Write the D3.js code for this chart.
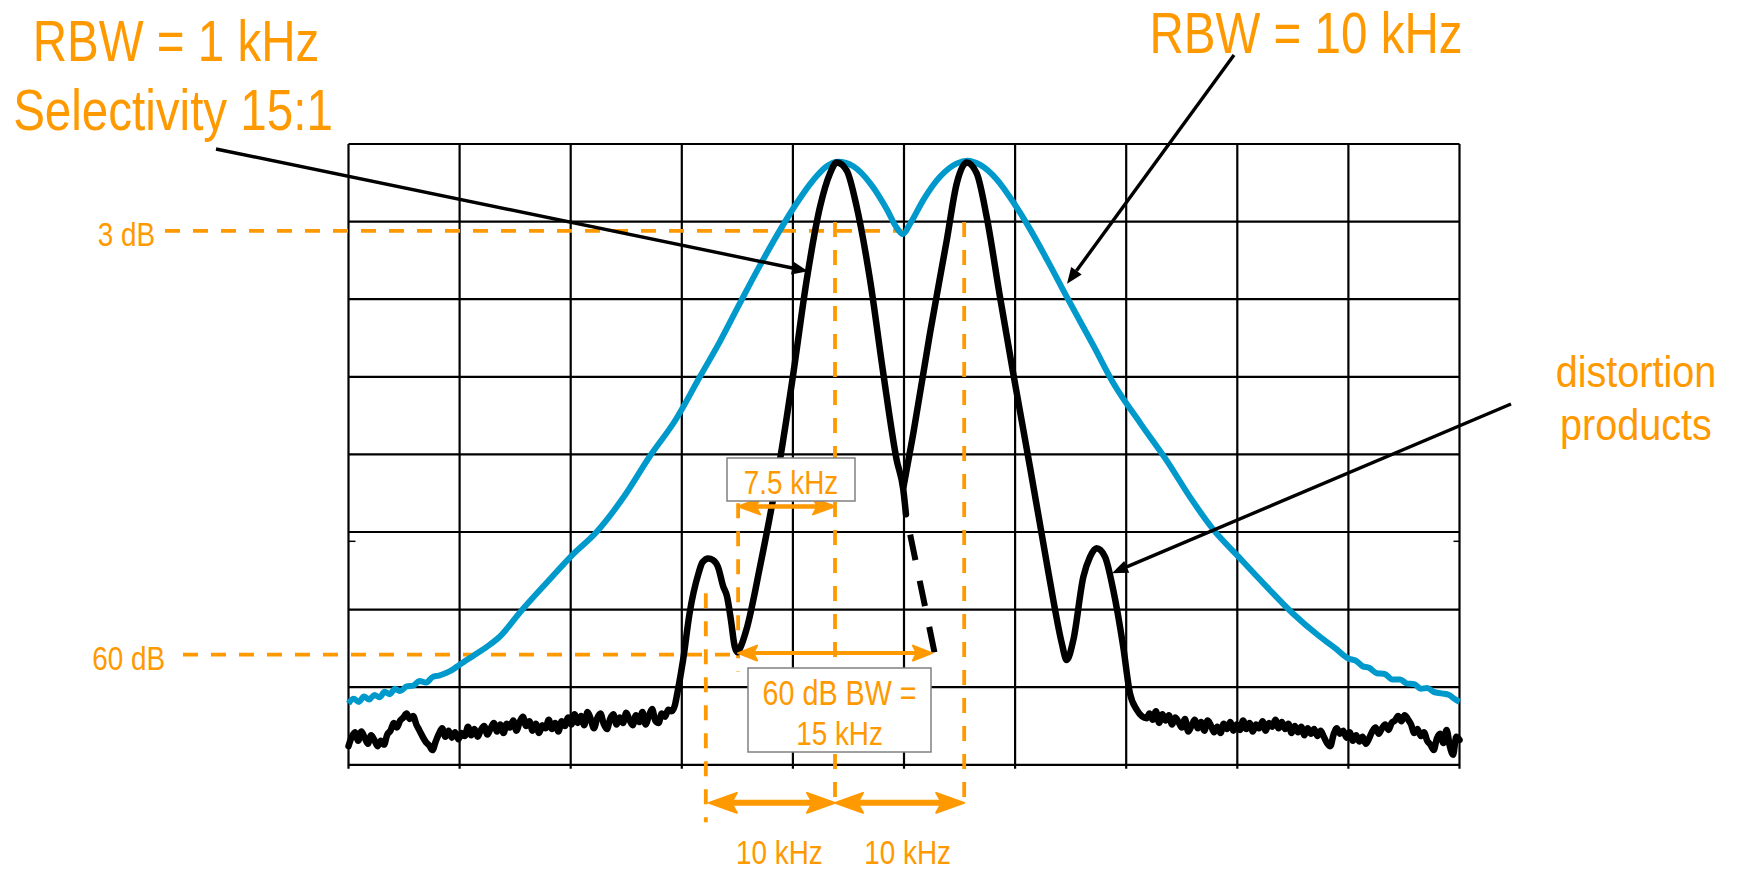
<!DOCTYPE html>
<html>
<head>
<meta charset="utf-8">
<script src="https://cdn.jsdelivr.net/npm/d3@7"></script>
<style>
html, body { margin: 0; padding: 0; background: #fff; overflow: hidden; }
svg { display: block; }
text { font-family: "Liberation Sans", Arial, sans-serif; fill: #ff9900; }
</style>
</head>
<body>
<script>
let WIDTH = 1739, HEIGHT = 872,
    PLOT = {left: 348.5, right: 1459.5, top: 144, bottom: 764.8},
    ORANGE = '#ff9900', BLUE = '#0099cc'

// x: frequency offset from centre (kHz), y: level (dB, 10 dB/div)
const spanKHz = [-43, 43]
const levelDb = [-80, 0]
const hDivs = 10, vDivs = 8

// RBW = 10 kHz trace (blue)
const rbw10Trace = [
  [-43.0,-72.1],[-42.6,-71.5],[-42.2,-71.9],[-41.8,-71.2],[-41.4,-71.6],[-41.0,-71.0],[-40.6,-71.3],
  [-40.2,-70.6],[-39.8,-70.9],[-39.4,-70.2],[-39.0,-70.5],[-38.5,-69.9],[-38.0,-69.8],[-37.5,-69.2],
  [-37.0,-69.4],[-36.5,-68.7],[-36.0,-68.5],[-35.5,-68.2],[-35.0,-67.8],[-34.4,-67.1],[-33.3,-65.9],
  [-32.3,-64.8],[-31.3,-63.5],[-29.7,-60.3],[-27.7,-56.6],[-25.7,-53.0],[-23.8,-50.0],[-21.7,-45.5],
  [-19.7,-40.3],[-17.7,-35.6],[-15.8,-30.0],[-14.2,-25.3],[-12.7,-20.5],[-11.2,-15.8],[-9.6,-11.1],
  [-8.3,-7.6],[-7.0,-4.6],[-6.0,-2.9],[-5.1,-2.3],[-3.9,-2.9],[-2.6,-5.1],[-1.3,-8.5],[-0.6,-10.7],
  [-0.1,-11.6],[0.5,-10.2],[1.5,-7.2],[2.8,-4.2],[4.1,-2.5],[4.9,-2.15],[5.9,-2.7],[7.2,-4.6],
  [8.5,-7.6],[9.8,-11.1],[11.1,-15.0],[12.6,-19.7],[14.7,-26.1],[16.2,-30.8],[18.3,-36.0],[20.3,-40.7],
  [22.3,-45.9],[23.9,-49.6],[25.9,-53.2],[28.1,-57.1],[30.1,-60.5],[32.2,-63.5],[33.4,-65.0],
  [34.4,-66.3],[35.0,-66.6],[35.5,-67.3],[36.0,-67.5],[36.6,-68.2],[37.2,-68.3],[37.8,-69.0],
  [38.4,-69.0],[38.9,-69.5],[39.5,-69.6],[40.0,-70.2],[40.5,-70.1],[41.0,-70.6],[41.6,-70.8],
  [42.2,-71.0],[42.6,-71.5],[43.0,-71.9]
]

// RBW = 1 kHz trace (black): noise floor left of the tones
const rbw1FloorLeft = [
  [-43.0,-77.6],[-42.75,-76.4],[-42.5,-75.8],[-42.25,-76.9],[-42.0,-75.7],[-41.75,-76.5],[-41.5,-77.3],
  [-41.25,-76.2],[-41.0,-76.8],[-40.75,-77.6],[-40.5,-76.9],[-40.25,-77.4],[-40.0,-76.1],[-39.75,-75.6],
  [-39.5,-74.6],[-39.25,-75.2],[-39.0,-74.3],[-38.75,-73.9],[-38.5,-73.4],[-38.25,-74.1],[-38.0,-73.7],
  [-37.75,-74.8],[-37.5,-75.6],[-37.25,-76.4],[-37.0,-77.1],[-36.75,-77.5],[-36.5,-78.1],[-36.25,-77.0],
  [-36.0,-76.0],[-35.75,-75.3],[-35.5,-76.4],[-35.25,-75.6],[-35.0,-76.5],[-34.75,-75.8],[-34.5,-76.7],
  [-34.25,-75.9],[-34.0,-76.3],[-33.75,-75.1],[-33.5,-76.2],[-33.25,-75.4],[-33.0,-76.4],[-32.75,-75.5],
  [-32.5,-75.0],[-32.25,-76.1],[-32.0,-75.3],[-31.75,-74.6],[-31.5,-75.7],[-31.25,-74.8],[-31.0,-75.9],
  [-30.75,-74.7],[-30.5,-75.2],[-30.25,-74.3],[-30.0,-75.6],[-29.75,-74.5],[-29.5,-73.8],[-29.25,-75.0],
  [-29.0,-74.4],[-28.75,-75.6],[-28.5,-74.7],[-28.25,-75.9],[-28.0,-74.9],[-27.75,-75.3],[-27.5,-74.2],
  [-27.25,-75.4],[-27.0,-74.6],[-26.75,-75.7],[-26.5,-74.4],[-26.25,-75.0],[-26.0,-73.9],[-25.75,-74.8],
  [-25.5,-73.5],[-25.25,-74.6],[-25.0,-73.7],[-24.75,-74.9],[-24.5,-73.2],[-24.25,-74.1],[-24.0,-75.3],
  [-23.75,-74.0],[-23.5,-73.4],[-23.25,-74.7],[-23.0,-75.4],[-22.75,-74.1],[-22.5,-73.5],[-22.25,-74.8],
  [-22.0,-73.9],[-21.75,-74.6],[-21.5,-73.3],[-21.25,-74.2],[-21.0,-74.9],[-20.75,-73.6],[-20.5,-74.5],
  [-20.25,-73.2],[-20.0,-74.8],[-19.75,-73.7],[-19.5,-72.8],[-19.25,-74.3],[-19.0,-74.6],[-18.75,-73.4],
  [-18.5,-73.8],[-18.25,-72.9],[-18.0,-73.1],[-17.75,-72.4]
]
// first distortion product and first tone, down to where it is hidden
const rbw1Tone1 = [
  [-17.55,-70.8],[-17.1,-66.5],[-16.6,-60.5],[-15.9,-55.3],[-15.6,-53.9],[-15.15,-53.4],[-14.8,-53.6],
  [-14.4,-54.5],[-14.0,-57.0],[-13.7,-58.3],[-13.4,-61.3],[-13.1,-64.8],[-12.9,-65.5],[-12.7,-65.0],
  [-12.2,-62.6],[-11.15,-54.5],[-9.6,-40.7],[-8.57,-29.6],[-7.53,-17.5],[-6.5,-8.1],[-5.73,-3.8],
  [-5.21,-2.4],[-4.44,-3.4],[-3.66,-8.1],[-2.63,-17.5],[-1.6,-29.6],[-0.57,-40.7],[-0.05,-44.6],[0.15,-47.7]
]
// second tone and second distortion product
const rbw1Tone2 = [
  [-0.05,-44.3],[0.72,-37.3],[2.01,-24.4],[3.31,-12.4],[4.08,-5.1],[4.85,-2.4],[5.63,-3.8],
  [6.4,-9.4],[7.43,-19.7],[8.46,-29.6],[9.75,-41.6],[11.05,-54.0],[11.56,-58.8],[12.21,-64.3],
  [12.59,-66.5],[13.11,-63.9],[13.88,-55.8],[14.4,-53.2],[14.91,-52.1],[15.56,-53.2],[16.2,-57.5],
  [16.97,-64.8],[17.49,-70.8],[18.01,-72.9],[18.79,-74.0]
]
// noise floor right of the tones
const rbw1FloorRight = [
  [19.0,-73.4],[19.25,-74.2],[19.5,-73.1],[19.75,-74.6],[20.0,-73.5],[20.25,-74.3],[20.5,-73.6],
  [20.75,-74.8],[21.0,-73.9],[21.25,-74.5],[21.5,-75.2],[21.75,-74.1],[22.0,-75.7],[22.25,-75.0],
  [22.5,-74.2],[22.75,-75.3],[23.0,-74.5],[23.25,-75.6],[23.5,-74.3],[23.75,-74.9],[24.0,-75.8],
  [24.25,-75.1],[24.5,-75.9],[24.75,-74.7],[25.0,-75.4],[25.25,-74.5],[25.5,-75.6],[25.75,-74.8],
  [26.0,-75.5],[26.25,-74.3],[26.5,-75.4],[26.75,-74.6],[27.0,-75.7],[27.25,-74.8],[27.5,-75.3],
  [27.75,-74.4],[28.0,-75.6],[28.25,-74.6],[28.5,-75.1],[28.75,-74.2],[29.0,-75.3],[29.25,-74.5],
  [29.5,-75.4],[29.75,-74.7],[30.0,-75.9],[30.25,-75.0],[30.5,-75.8],[30.75,-75.1],[31.0,-76.2],
  [31.25,-75.3],[31.5,-76.0],[31.75,-75.4],[32.0,-76.3],[32.25,-75.6],[32.5,-76.4],[32.75,-77.2],
  [33.0,-77.6],[33.25,-76.1],[33.5,-75.3],[33.75,-76.0],[34.0,-75.6],[34.25,-76.5],[34.5,-75.8],
  [34.75,-76.9],[35.0,-76.2],[35.25,-77.0],[35.5,-76.4],[35.75,-77.3],[36.0,-76.6],[36.25,-75.7],
  [36.5,-75.2],[36.75,-76.0],[37.0,-75.3],[37.25,-74.8],[37.5,-75.5],[37.75,-74.6],[38.0,-74.3],
  [38.25,-73.7],[38.5,-74.4],[38.75,-73.6],[39.0,-74.1],[39.25,-74.8],[39.5,-75.9],[39.75,-75.4],
  [40.0,-76.3],[40.25,-75.8],[40.5,-76.9],[40.75,-77.4],[41.0,-78.1],[41.25,-76.6],[41.5,-76.0],
  [41.75,-77.2],[42.0,-75.5],[42.25,-77.6],[42.5,-78.7],[42.75,-76.4],[43.0,-76.8]
]
// hidden flank of the first tone (dashed)
const rbw1Hidden = [[0.15,-47.7],[2.36,-65.5]]

const toneKHz = [-5.34, 4.66]
const level3dB = -11.2, level60dB = -65.8
const halfBw60 = 7.5, toneSpacing = 10

//Scales
let x = d3.scaleLinear().domain(spanKHz).range([PLOT.left, PLOT.right])
let y = d3.scaleLinear().domain(levelDb).range([PLOT.bottom, PLOT.top])

let svg = d3.select('body').append('svg')
  .attr('width', WIDTH).attr('height', HEIGHT)
  .attr('viewBox', `0 0 ${WIDTH} ${HEIGHT}`)

//Graticule
let grid = svg.append('g').attr('class', 'grid')
let xTicks = d3.range(hDivs + 1).map(i => spanKHz[0] + i * (spanKHz[1] - spanKHz[0]) / hDivs)
let yTicks = d3.range(vDivs + 1).map(i => levelDb[0] + i * (levelDb[1] - levelDb[0]) / vDivs)
grid.selectAll('.v').data(xTicks).enter().append('line')
  .attr('x1', d => x(d)).attr('x2', d => x(d))
  .attr('y1', y(levelDb[1])).attr('y2', y(levelDb[0]) + 4)
  .attr('stroke', '#000').attr('stroke-width', 2.2)
grid.selectAll('.h').data(yTicks).enter().append('line')
  .attr('y1', d => y(d)).attr('y2', d => y(d))
  .attr('x1', x(spanKHz[0])).attr('x2', x(spanKHz[1]))
  .attr('stroke', '#000').attr('stroke-width', 2.2)
// small reference ticks on both edges
grid.append('line').attr('x1', x(spanKHz[0])).attr('x2', x(spanKHz[0]) + 7)
  .attr('y1', y(-51.2)).attr('y2', y(-51.2)).attr('stroke', '#000').attr('stroke-width', 1.5)
grid.append('line').attr('x1', x(spanKHz[1]) - 6).attr('x2', x(spanKHz[1]))
  .attr('y1', y(-51.2)).attr('y2', y(-51.2)).attr('stroke', '#000').attr('stroke-width', 1.5)

//Orange guide lines
let guides = svg.append('g')
function dashed(x1, y1, x2, y2) {
  guides.append('line').attr('x1', x1).attr('y1', y1).attr('x2', x2).attr('y2', y2)
    .attr('stroke', ORANGE).attr('stroke-width', 3.8).attr('stroke-dasharray', '15 13')
}
dashed(165, y(level3dB), x(-0.1), y(level3dB))
dashed(183, y(level60dB), x(-12.9), y(level60dB))
dashed(x(toneKHz[0]), y(-10.05), x(toneKHz[0]), y(-84.2))
dashed(x(toneKHz[1]), y(-10.05), x(toneKHz[1]), y(-84.2))
dashed(x(toneKHz[0] - toneSpacing), y(-57.9), x(toneKHz[0] - toneSpacing), y(-87.4))
dashed(x(toneKHz[0] - halfBw60), y(-46.3), x(toneKHz[0] - halfBw60), y(-68.0))

//Traces
let line = d3.line().x(d => x(d[0])).y(d => y(d[1])).curve(d3.curveMonotoneX)
svg.append('path').datum(rbw10Trace).attr('d', line)
  .attr('fill', 'none').attr('stroke', BLUE).attr('stroke-width', 6).attr('stroke-linejoin', 'round')
let traces = svg.append('g')
let leftPart = rbw1FloorLeft.concat(rbw1Tone1)
let rightPart = rbw1Tone2.concat(rbw1FloorRight)
;[leftPart, rightPart].forEach(seg => {
  traces.append('path').datum(seg).attr('d', line)
    .attr('fill', 'none').attr('stroke', '#000').attr('stroke-width', 6.5)
    .attr('stroke-linejoin', 'round').attr('stroke-linecap', 'round')
})
traces.append('path').datum(rbw1Hidden).attr('d', d3.line().x(d => x(d[0])).y(d => y(d[1])))
  .attr('fill', 'none').attr('stroke', '#000').attr('stroke-width', 6)
  .attr('stroke-dasharray', '26 21').attr('stroke-dashoffset', 26)

//Double arrows (orange)
function head(g, tipX, tipY, dir, len, half) {
  g.append('path')
    .attr('d', `M${tipX},${tipY} L${tipX - dir * len},${tipY - half} L${tipX - dir * len * 0.8},${tipY} L${tipX - dir * len},${tipY + half} Z`)
    .attr('fill', ORANGE).attr('stroke', ORANGE).attr('stroke-width', 2).attr('stroke-linejoin', 'round')
}
function doubleArrow(x1, x2, yy, w, len, half) {
  let g = svg.append('g')
  g.append('line').attr('x1', x1 + len * 0.7).attr('x2', x2 - len * 0.7)
    .attr('y1', yy).attr('y2', yy).attr('stroke', ORANGE).attr('stroke-width', w)
  head(g, x1, yy, -1, len, half)
  head(g, x2, yy, 1, len, half)
}
doubleArrow(x(toneKHz[0] - halfBw60), x(toneKHz[0]), y(-46.7), 4.5, 22, 8)
doubleArrow(x(toneKHz[0] - halfBw60), x(toneKHz[0] + halfBw60), y(-65.6), 4, 19, 7.5)
doubleArrow(x(toneKHz[0] - toneSpacing) + 3, x(toneKHz[0]), y(-84.9), 6, 28, 10)
doubleArrow(x(toneKHz[0]), x(toneKHz[1]), y(-84.9), 6, 28, 10)

//Callout arrows (black)
let callouts = [
  {from: [216, 149], to: [-7.43, -16.4]},
  {from: [1234, 55], to: [12.62, -18.0]},
  {from: [1511, 404], to: [16.1, -55.3]}
]
callouts.forEach(c => {
  let tx = x(c.to[0]), ty = y(c.to[1])
  let a = Math.atan2(ty - c.from[1], tx - c.from[0])
  let len = 16, half = 6.5
  let bx = tx - len * Math.cos(a), by = ty - len * Math.sin(a)
  svg.append('line').attr('x1', c.from[0]).attr('y1', c.from[1]).attr('x2', bx).attr('y2', by)
    .attr('stroke', '#000').attr('stroke-width', 3.4)
  svg.append('path')
    .attr('d', `M${tx},${ty} L${bx - half * Math.sin(a)},${by + half * Math.cos(a)} L${bx + half * Math.sin(a)},${by - half * Math.cos(a)} Z`)
    .attr('fill', '#000')
})

//Condensed text helper
function label(g, t, lx, ly, size, anchor, sx) {
  g.append('text')
    .attr('transform', `translate(${lx},${ly}) scale(${sx || 0.82},1)`)
    .attr('font-size', size).attr('text-anchor', anchor)
    .text(t)
}

//Boxes with labels
function box(rx, ry, rw, rh, lines) {
  svg.append('rect').attr('x', rx).attr('y', ry).attr('width', rw).attr('height', rh)
    .attr('fill', '#fff').attr('stroke', '#808080').attr('stroke-width', 1.5)
  lines.forEach(l => label(svg, l.t, rx + rw / 2, l.y, l.size, 'middle'))
}
box(727, 458, 128, 43, [{t: '7.5 kHz', y: 494, size: 34}])
box(748, 668, 183, 84, [{t: '60 dB BW =', y: 705, size: 35}, {t: '15 kHz', y: 745, size: 34}])

//Labels
let labels = [
  {t: 'RBW = 1 kHz', x: 176, y: 61, size: 58, anchor: 'middle'},
  {t: 'Selectivity 15:1', x: 173, y: 130, size: 58, anchor: 'middle'},
  {t: 'RBW = 10 kHz', x: 1306, y: 53, size: 58, anchor: 'middle'},
  {t: 'distortion', x: 1636, y: 387, size: 44, anchor: 'middle', sx: 0.9},
  {t: 'products', x: 1636, y: 440, size: 44, anchor: 'middle', sx: 0.9},
  {t: '3 dB', x: 155, y: 246, size: 34, anchor: 'end'},
  {t: '60 dB', x: 165, y: 670, size: 34, anchor: 'end'},
  {t: '10 kHz', x: (x(toneKHz[0] - toneSpacing) + x(toneKHz[0])) / 2 + 9, y: 864, size: 34, anchor: 'middle'},
  {t: '10 kHz', x: (x(toneKHz[0]) + x(toneKHz[1])) / 2 + 8, y: 864, size: 34, anchor: 'middle'}
]
let labelLayer = svg.append('g')
labels.forEach(d => label(labelLayer, d.t, d.x, d.y, d.size, d.anchor, d.sx))
</script>
</body>
</html>
